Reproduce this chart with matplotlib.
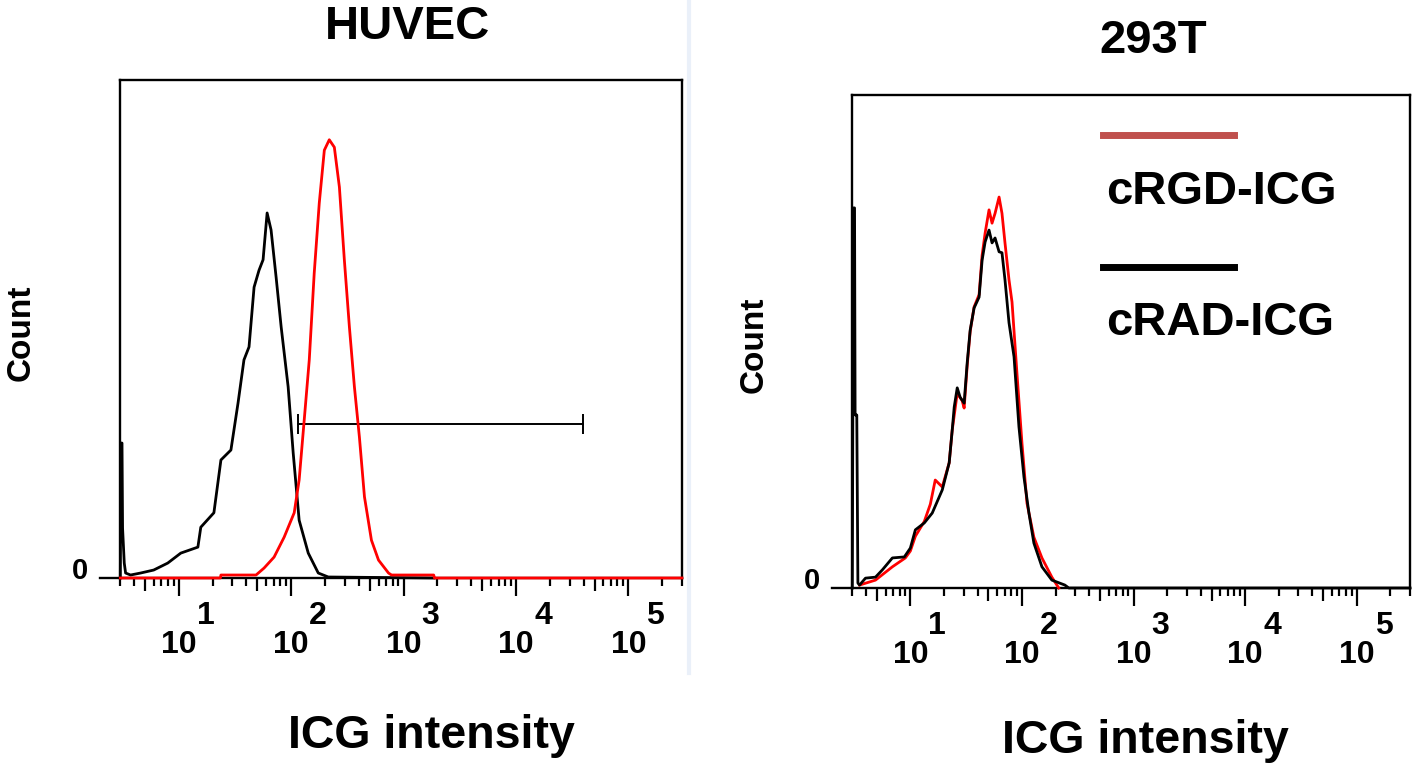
import numpy as np
import matplotlib
matplotlib.use("Agg")
import matplotlib.pyplot as plt
from matplotlib.lines import Line2D
from matplotlib.ticker import FixedLocator, LogLocator, NullFormatter

plt.rcParams['font.family'] = ['Liberation Sans', 'DejaVu Sans']
plt.rcParams['font.weight'] = 'bold'

# ---- data (x as log10 of ICG intensity, y as count in % of plot height) ----
huvec_black_log = [0.48, 0.485, 0.495, 0.50, 0.515, 0.527, 0.571, 0.661, 0.777, 0.902,
                   1.018, 1.170, 1.196, 1.3125, 1.375, 1.464, 1.527, 1.580, 1.625, 1.670,
                   1.714, 1.750, 1.786, 1.821, 1.866, 1.911, 1.973, 2.018, 2.071, 2.152,
                   2.241, 2.330, 3.27]
huvec_black_cnt = [0, 27.1, 27.1, 10.0, 3.0, 1.0, 0.6, 1.0, 1.6, 3.0,
                   5.0, 6.2, 10.2, 13.1, 23.7, 25.7, 35.1, 43.8, 46.4, 58.4,
                   61.8, 63.9, 73.3, 69.9, 60.4, 50.4, 38.4, 25.1, 11.6, 5.0,
                   1.0, 0.2, 0]

huvec_red_log = [0.48, 1.37, 1.375, 1.6875, 1.759, 1.848, 1.9375, 2.027, 2.071, 2.116,
                 2.161, 2.205, 2.25, 2.295, 2.339, 2.384, 2.429, 2.473, 2.518, 2.5625,
                 2.607, 2.652, 2.714, 2.777, 2.866, 2.893, 3.268, 3.275, 5.477]
huvec_red_cnt = [0, 0, 0.6, 0.6, 2.0, 4.2, 8.2, 13.1, 19.7, 31.7,
                 43.8, 61.2, 75.3, 85.9, 88.0, 86.5, 78.5, 63.9, 50.4, 38.4,
                 28.3, 16.3, 7.6, 3.6, 1.0, 0.6, 0.6, 0, 0]

gate_log = [2.0625, 4.598]
gate_level = 30.9

t293_black_log = [0.48, 0.49, 0.50, 0.505, 0.52, 0.53, 0.545, 0.598, 0.6875, 0.75,
                  0.839, 0.946, 1.0, 1.045, 1.125, 1.196, 1.286, 1.348, 1.375, 1.393,
                  1.420, 1.446, 1.482, 1.509, 1.536, 1.571, 1.616, 1.643, 1.670, 1.705,
                  1.732, 1.759, 1.795, 1.821, 1.848, 1.884, 1.929, 1.973, 2.018, 2.0625,
                  2.107, 2.179, 2.268, 2.384, 2.42, 5.477]
t293_black_cnt = [0, 77.1, 77.1, 35.1, 35.1, 1.0, 0.6, 2.0, 2.2, 3.7,
                  6.1, 6.3, 8.1, 11.8, 13.2, 15.2, 19.9, 25.4, 32.0, 36.7,
                  40.6, 38.7, 37.5, 45.6, 52.3, 56.8, 59.0, 66.5, 70.2, 72.6,
                  70.0, 71.0, 68.2, 68.0, 62.5, 53.8, 46.9, 32.7, 22.5, 15.2,
                  9.1, 4.3, 1.6, 0.6, 0, 0]

t293_red_log = [0.545, 0.6875, 0.839, 0.955, 1.0, 1.045, 1.125, 1.179, 1.223, 1.286,
                1.348, 1.375, 1.420, 1.464, 1.482, 1.509, 1.536, 1.571, 1.616, 1.643,
                1.670, 1.705, 1.732, 1.759, 1.795, 1.821, 1.848, 1.884, 1.911, 1.955,
                2.0, 2.045, 2.107, 2.179, 2.268, 2.3125, 2.33]
t293_red_cnt = [0.6, 1.6, 4.3, 6.1, 7.5, 10.5, 13.5, 17.0, 21.9, 20.5,
                25.4, 32.0, 39.5, 38.0, 36.5, 45.0, 52.0, 57.0, 59.5, 67.5,
                72.0, 76.7, 74.0, 76.0, 79.3, 76.0, 70.0, 62.5, 58.0, 43.6,
                29.4, 17.2, 10.3, 6.1, 2.2, 0.6, 0]

decades = [1, 2, 3, 4, 5]
legend_labels = ['cRGD-ICG', 'cRAD-ICG']

W, H = 1418, 766
fig = plt.figure(figsize=(W / 100, H / 100), dpi=100)


def px_rect(x0, y_top, x1, y_bot):
    return [x0 / W, 1 - y_bot / H, (x1 - x0) / W, (y_bot - y_top) / H]


def fx(x):
    return x / W


def fy(y):
    return 1 - y / H


ax1 = fig.add_axes(px_rect(120, 80, 682, 578))
ax2 = fig.add_axes(px_rect(852, 95, 1410, 588))

LW = 2.0
# HUVEC
ax1.plot(np.power(10.0, huvec_black_log), huvec_black_cnt, color='black', lw=LW,
         zorder=3, clip_on=False)
ax1.plot(np.power(10.0, huvec_red_log), huvec_red_cnt, color='#ff0000', lw=LW,
         zorder=3, clip_on=False)
gx = np.power(10.0, gate_log)
ax1.plot(gx, [gate_level, gate_level], color='black', lw=1.4)
ax1.vlines(gx, gate_level - 2.0, gate_level + 2.0, color='black', lw=1.4)

# 293T
ax2.plot(np.power(10.0, t293_red_log), t293_red_cnt, color='#ff0000', lw=LW,
         zorder=3, clip_on=False)
ax2.plot(np.power(10.0, t293_black_log), t293_black_cnt, color='black', lw=LW,
         zorder=3, clip_on=False)

for ax in (ax1, ax2):
    ax.set_xscale('log')
    ax.set_xlim(3.0, 3e5)
    ax.set_ylim(0, 100)
    ax.set_yticks([])
    ax.xaxis.set_major_locator(FixedLocator([10.0 ** k for k in decades]))
    ax.xaxis.set_minor_locator(LogLocator(base=10, subs=(2, 3, 4, 6, 7, 8, 9), numticks=30))
    ax.xaxis.set_major_formatter(NullFormatter())
    ax.xaxis.set_minor_formatter(NullFormatter())
    ax.tick_params(axis='x', which='major', length=13, width=1.6, direction='out')
    ax.tick_params(axis='x', which='minor', length=5.5, width=1.6, direction='out')
    for s in ax.spines.values():
        s.set_linewidth(1.7)
    h_px = ax.get_position().height * H
    w_px = ax.get_position().width * W
    # medium ticks at 5 x 10^k
    ax.vlines([5 * 10.0 ** k for k in range(0, 5)], -13 / h_px, 0,
              transform=ax.get_xaxis_transform(), color='black', lw=1.6, clip_on=False)
    # little cross at the origin
    ax.plot([-20 / w_px, 0], [0, 0], transform=ax.transAxes, color='black', lw=1.7, clip_on=False)
    for k in decades:
        ax.annotate('10', xy=(10.0 ** k, 0), xycoords=('data', 'axes fraction'),
                    xytext=(0, -54), textcoords='offset points',
                    ha='center', va='baseline', fontsize=23, fontweight='bold')
        ax.annotate(str(k), xy=(10.0 ** k, 0), xycoords=('data', 'axes fraction'),
                    xytext=(13, -33), textcoords='offset points',
                    ha='left', va='baseline', fontsize=23, fontweight='bold')
    ax.annotate('0', xy=(0, 0), xycoords='axes fraction', xytext=(-23, 5),
                textcoords='offset points', ha='right', va='center', fontsize=21,
                fontweight='bold')

# titles and labels
fig.text(fx(407), fy(27), 'HUVEC', ha='center', va='center', fontsize=34, fontweight='bold')
fig.text(fx(1153), fy(41), '293T', ha='center', va='center', fontsize=34, fontweight='bold')
fig.text(fx(21), fy(333), 'Count', rotation=90, ha='center', va='center', fontsize=24, fontweight='bold')
fig.text(fx(754), fy(345), 'Count', rotation=90, ha='center', va='center', fontsize=24, fontweight='bold')
fig.text(fx(431), fy(736), 'ICG intensity', ha='center', va='center', fontsize=33.5, fontweight='bold')
fig.text(fx(1145), fy(741), 'ICG intensity', ha='center', va='center', fontsize=33.5, fontweight='bold')

# legend (right panel)
fig.add_artist(Line2D([fx(1103), fx(1234)], [fy(135), fy(135)], color='#c0504d', lw=5))
fig.add_artist(Line2D([fx(1103), fx(1234)], [fy(267), fy(267)], color='black', lw=5))
fig.text(fx(1106), fy(192), legend_labels[0], ha='left', va='center', fontsize=34, fontweight='bold')
fig.text(fx(1106), fy(323), legend_labels[1], ha='left', va='center', fontsize=34, fontweight='bold')

# light separator between panels
fig.add_artist(Line2D([fx(689), fx(689)], [fy(0), fy(673)], color='#eaf0f9', lw=3))

fig.savefig('out.png', dpi=100, facecolor='white')
